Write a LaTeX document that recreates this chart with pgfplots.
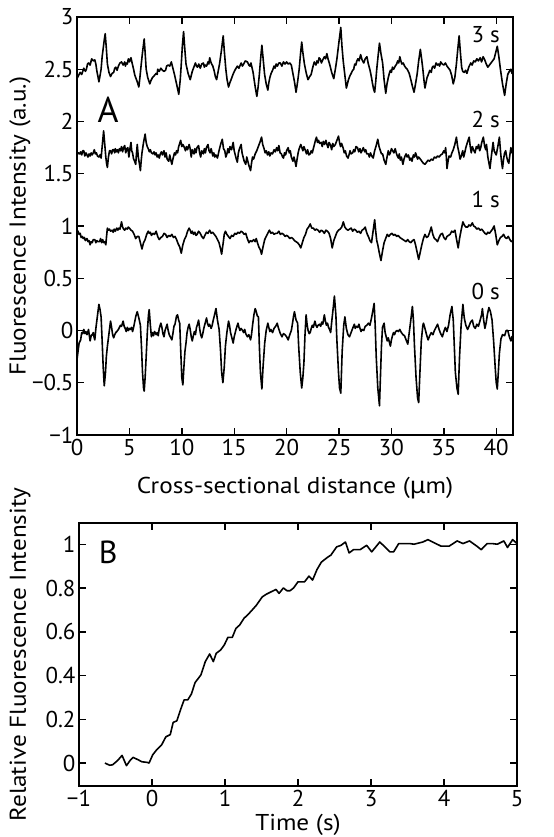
\documentclass[border=0pt]{standalone}
\usepackage{fontspec}
\setmainfont{PT Sans}
\newfontfamily\lbl[FakeStretch=1.1]{PT Sans}
\newfontfamily\greek[FakeStretch=1.1]{Noto Sans}
\usepackage{pgfplots}
\usepackage{pgfplotstable}
\pgfplotsset{compat=1.18}

\pgfplotstableread{
x y
0.00 2.41
0.15 2.44
0.30 2.47
0.45 2.45
0.65 2.51
0.80 2.48
0.90 2.50
1.00 2.55
1.10 2.56
1.25 2.54
1.40 2.60
1.55 2.58
1.70 2.59
1.80 2.55
1.90 2.48
2.00 2.43
2.09 2.38
2.20 2.44
2.30 2.50
2.40 2.62
2.50 2.70
2.60 2.78
2.69 2.84
2.80 2.70
2.90 2.55
3.05 2.47
3.20 2.43
3.35 2.46
3.50 2.47
3.60 2.51
3.70 2.52
3.82 2.49
3.95 2.53
4.10 2.56
4.25 2.57
4.40 2.54
4.55 2.57
4.62 2.53
4.70 2.56
4.80 2.55
4.90 2.60
5.00 2.57
5.15 2.61
5.28 2.55
5.40 2.50
5.50 2.45
5.60 2.42
5.75 2.38
5.90 2.33
6.00 2.42
6.10 2.52
6.25 2.66
6.41 2.79
6.50 2.66
6.60 2.50
6.75 2.42
6.95 2.36
7.05 2.39
7.20 2.42
7.38 2.44
7.55 2.46
7.65 2.45
7.70 2.50
7.85 2.48
8.00 2.51
8.15 2.49
8.30 2.48
8.45 2.49
8.55 2.53
8.70 2.54
8.85 2.53
9.00 2.57
9.15 2.51
9.30 2.45
9.50 2.36
9.71 2.26
9.85 2.40
9.95 2.55
10.05 2.72
10.17 2.86
10.28 2.70
10.40 2.55
10.60 2.46
10.80 2.40
10.90 2.44
11.00 2.48
11.15 2.52
11.30 2.56
11.40 2.53
11.50 2.52
11.62 2.55
11.76 2.51
11.90 2.55
12.06 2.56
12.15 2.52
12.25 2.54
12.36 2.53
12.50 2.57
12.58 2.55
12.66 2.61
12.80 2.56
12.96 2.53
13.10 2.48
13.20 2.43
13.32 2.40
13.45 2.47
13.60 2.55
13.78 2.68
13.95 2.82
14.05 2.68
14.20 2.50
14.32 2.40
14.46 2.33
14.58 2.37
14.70 2.40
14.88 2.45
15.06 2.49
15.18 2.51
15.30 2.53
15.45 2.51
15.66 2.56
15.78 2.53
15.90 2.55
16.05 2.58
16.26 2.57
16.40 2.54
16.50 2.53
16.60 2.56
16.71 2.51
16.80 2.47
16.90 2.40
17.02 2.32
17.16 2.24
17.28 2.33
17.40 2.45
17.52 2.60
17.64 2.73
17.76 2.60
17.90 2.45
18.05 2.36
18.21 2.30
18.30 2.37
18.40 2.42
18.52 2.46
18.66 2.49
18.80 2.53
18.90 2.51
19.00 2.55
19.12 2.53
19.26 2.56
19.40 2.56
19.55 2.53
19.70 2.57
19.85 2.55
20.00 2.57
20.15 2.55
20.30 2.56
20.45 2.54
20.60 2.46
20.75 2.38
20.90 2.28
21.05 2.38
21.20 2.50
21.32 2.64
21.44 2.76
21.55 2.66
21.70 2.55
21.88 2.46
22.04 2.40
22.20 2.43
22.34 2.45
22.50 2.52
22.64 2.57
22.80 2.54
22.90 2.58
23.00 2.56
23.10 2.61
23.20 2.60
23.32 2.56
23.45 2.59
23.60 2.62
23.72 2.60
23.84 2.65
23.95 2.60
24.10 2.55
24.30 2.47
24.50 2.41
24.65 2.50
24.80 2.60
24.98 2.75
25.17 2.90
25.28 2.72
25.40 2.58
25.55 2.45
25.70 2.32
25.80 2.36
25.90 2.40
26.05 2.44
26.16 2.46
26.30 2.49
26.40 2.50
26.50 2.55
26.60 2.54
26.70 2.58
26.80 2.60
26.92 2.58
27.06 2.64
27.20 2.59
27.36 2.56
27.50 2.60
27.66 2.62
27.80 2.55
27.96 2.49
28.10 2.42
28.20 2.36
28.30 2.31
28.40 2.28
28.50 2.38
28.60 2.50
28.72 2.62
28.86 2.75
29.00 2.65
29.16 2.56
29.30 2.40
29.46 2.27
29.58 2.36
29.70 2.42
29.80 2.46
29.90 2.49
30.00 2.47
30.10 2.52
30.22 2.50
30.36 2.53
30.50 2.55
30.60 2.58
30.70 2.56
30.80 2.62
30.90 2.58
31.00 2.55
31.12 2.56
31.26 2.53
31.40 2.51
31.50 2.50
31.60 2.48
31.70 2.46
31.80 2.42
31.90 2.38
32.02 2.33
32.16 2.28
32.30 2.36
32.45 2.45
32.60 2.58
32.76 2.69
32.88 2.60
33.00 2.50
33.10 2.40
33.20 2.32
33.30 2.37
33.40 2.42
33.52 2.45
33.66 2.49
33.80 2.47
33.90 2.52
34.00 2.53
34.12 2.51
34.26 2.56
34.40 2.54
34.50 2.55
34.60 2.53
34.70 2.57
34.85 2.55
35.00 2.54
35.15 2.56
35.30 2.53
35.45 2.51
35.60 2.49
35.75 2.44
35.90 2.36
36.05 2.42
36.20 2.55
36.32 2.68
36.46 2.82
36.58 2.66
36.70 2.52
36.80 2.48
36.95 2.47
37.08 2.49
37.20 2.46
37.38 2.52
37.57 2.56
37.70 2.54
37.85 2.58
38.00 2.57
38.15 2.60
38.30 2.58
38.47 2.61
38.60 2.57
38.75 2.62
38.90 2.59
39.05 2.55
39.20 2.52
39.35 2.54
39.50 2.56
39.65 2.58
39.80 2.60
39.95 2.66
40.10 2.72
40.25 2.62
40.40 2.50
40.60 2.36
40.80 2.25
40.95 2.36
41.10 2.45
41.25 2.48
41.40 2.50
41.50 2.46
41.60 2.47
}\tthree

\pgfplotstableread{
x y
0.00 1.68
0.12 1.70
0.25 1.69
0.35 1.71
0.45 1.68
0.55 1.72
0.65 1.72
0.75 1.67
0.85 1.70
0.95 1.68
1.05 1.66
1.15 1.69
1.25 1.67
1.35 1.70
1.45 1.68
1.55 1.70
1.65 1.73
1.75 1.69
1.85 1.70
1.95 1.67
2.09 1.66
2.20 1.68
2.30 1.65
2.42 1.78
2.54 1.91
2.65 1.78
2.75 1.66
2.82 1.60
2.90 1.56
3.00 1.66
3.10 1.72
3.20 1.72
3.30 1.69
3.40 1.73
3.50 1.73
3.60 1.70
3.65 1.74
3.75 1.71
3.85 1.73
3.95 1.70
4.05 1.74
4.15 1.72
4.25 1.76
4.35 1.71
4.45 1.75
4.55 1.77
4.65 1.70
4.75 1.74
4.85 1.75
4.95 1.66
5.05 1.74
5.15 1.80
5.22 1.72
5.30 1.70
5.40 1.64
5.50 1.62
5.60 1.59
5.68 1.70
5.75 1.78
5.85 1.66
5.95 1.60
6.05 1.53
6.12 1.62
6.20 1.70
6.35 1.80
6.50 1.88
6.60 1.80
6.70 1.76
6.80 1.74
6.90 1.71
7.00 1.73
7.10 1.70
7.25 1.69
7.35 1.71
7.45 1.68
7.55 1.70
7.65 1.66
7.75 1.68
7.85 1.65
7.95 1.69
8.05 1.71
8.15 1.68
8.30 1.72
8.40 1.66
8.50 1.70
8.60 1.64
8.75 1.62
8.85 1.68
8.95 1.63
9.05 1.59
9.15 1.64
9.30 1.70
9.40 1.68
9.50 1.72
9.60 1.70
9.70 1.76
9.80 1.79
9.89 1.82
10.00 1.76
10.10 1.78
10.25 1.75
10.35 1.72
10.45 1.76
10.55 1.73
10.70 1.78
10.80 1.74
10.90 1.66
11.00 1.73
11.16 1.69
11.25 1.74
11.35 1.70
11.45 1.75
11.60 1.77
11.70 1.70
11.80 1.66
11.90 1.72
12.06 1.69
12.15 1.74
12.25 1.70
12.35 1.75
12.50 1.78
12.60 1.72
12.70 1.70
12.80 1.74
12.96 1.67
13.05 1.70
13.15 1.66
13.25 1.68
13.40 1.65
13.55 1.72
13.70 1.78
13.86 1.83
13.98 1.74
14.10 1.72
14.20 1.66
14.30 1.69
14.40 1.74
14.50 1.70
14.60 1.76
14.75 1.73
14.90 1.80
15.00 1.72
15.10 1.68
15.20 1.64
15.30 1.61
15.40 1.70
15.50 1.74
15.66 1.78
15.75 1.70
15.85 1.66
15.95 1.62
16.10 1.59
16.20 1.66
16.30 1.62
16.40 1.58
16.56 1.53
16.65 1.60
16.75 1.66
16.85 1.64
17.00 1.69
17.15 1.72
17.30 1.76
17.45 1.80
17.61 1.85
17.72 1.78
17.85 1.74
17.95 1.70
18.06 1.72
18.18 1.68
18.30 1.71
18.40 1.67
18.52 1.70
18.66 1.69
18.80 1.73
18.92 1.71
19.05 1.75
19.15 1.72
19.26 1.77
19.38 1.70
19.50 1.69
19.62 1.66
19.70 1.65
19.80 1.70
19.90 1.68
20.00 1.72
20.15 1.75
20.25 1.70
20.35 1.72
20.45 1.66
20.60 1.62
20.70 1.66
20.80 1.62
20.90 1.57
21.00 1.64
21.10 1.70
21.20 1.74
21.35 1.78
21.45 1.75
21.55 1.72
21.65 1.76
21.80 1.72
21.90 1.69
22.00 1.73
22.12 1.68
22.25 1.69
22.35 1.72
22.45 1.70
22.55 1.74
22.65 1.78
22.75 1.82
22.85 1.85
22.95 1.80
23.05 1.82
23.15 1.79
23.30 1.80
23.40 1.76
23.50 1.81
23.62 1.78
23.75 1.82
23.85 1.78
23.95 1.75
24.05 1.80
24.20 1.77
24.30 1.73
24.40 1.79
24.50 1.76
24.65 1.78
24.80 1.82
24.95 1.86
25.05 1.80
25.15 1.76
25.25 1.79
25.41 1.74
25.50 1.70
25.60 1.72
25.72 1.67
25.86 1.65
25.95 1.68
26.05 1.72
26.15 1.69
26.30 1.70
26.40 1.73
26.50 1.71
26.62 1.76
26.76 1.75
26.88 1.71
27.00 1.74
27.10 1.70
27.20 1.72
27.32 1.75
27.45 1.71
27.55 1.73
27.65 1.69
27.80 1.69
27.90 1.66
28.00 1.70
28.12 1.67
28.26 1.65
28.40 1.72
28.55 1.77
28.70 1.83
28.82 1.76
28.95 1.72
29.05 1.69
29.16 1.69
29.30 1.63
29.46 1.59
29.58 1.66
29.70 1.72
29.80 1.68
29.90 1.70
30.00 1.74
30.12 1.72
30.24 1.70
30.36 1.74
30.46 1.70
30.56 1.67
30.66 1.65
30.75 1.69
30.85 1.63
30.95 1.66
31.10 1.59
31.20 1.64
31.30 1.67
31.40 1.69
31.50 1.66
31.62 1.68
31.75 1.63
31.86 1.65
31.96 1.62
32.10 1.68
32.20 1.66
32.30 1.70
32.40 1.67
32.50 1.64
32.60 1.66
32.76 1.64
32.90 1.62
33.05 1.60
33.20 1.59
33.35 1.61
33.50 1.63
33.65 1.62
33.80 1.64
33.95 1.63
34.10 1.66
34.25 1.65
34.40 1.67
34.55 1.66
34.70 1.68
34.86 1.69
35.00 1.72
35.10 1.70
35.17 1.75
35.24 1.66
35.30 1.55
35.40 1.62
35.50 1.67
35.65 1.66
35.77 1.70
35.90 1.73
36.05 1.78
36.20 1.85
36.32 1.76
36.45 1.70
36.55 1.64
36.67 1.67
36.80 1.72
36.90 1.66
36.97 1.69
37.10 1.75
37.25 1.80
37.42 1.85
37.52 1.76
37.62 1.70
37.72 1.76
37.87 1.72
37.98 1.70
38.10 1.76
38.20 1.74
38.32 1.78
38.42 1.72
38.52 1.75
38.62 1.80
38.77 1.85
38.90 1.76
39.00 1.73
39.07 1.78
39.20 1.66
39.40 1.55
39.55 1.68
39.70 1.80
39.80 1.72
39.90 1.70
40.00 1.68
40.15 1.76
40.30 1.85
40.42 1.70
40.50 1.62
40.60 1.55
40.70 1.64
40.80 1.70
40.90 1.72
41.00 1.66
41.10 1.62
41.20 1.60
41.30 1.68
41.40 1.75
41.50 1.70
41.60 1.72
}\ttwo

\pgfplotstableread{
x y
0.00 0.94
0.10 0.95
0.20 0.92
0.30 0.93
0.40 0.89
0.50 0.90
0.60 0.88
0.70 0.89
0.80 0.86
0.95 0.88
1.05 0.85
1.15 0.86
1.25 0.82
1.35 0.85
1.45 0.84
1.55 0.87
1.70 0.87
1.80 0.84
1.90 0.86
2.00 0.85
2.15 0.85
2.25 0.88
2.35 0.84
2.45 0.87
2.55 0.84
2.65 0.85
2.75 0.82
2.82 0.90
2.90 0.98
3.00 0.96
3.10 0.97
3.20 0.95
3.35 0.96
3.45 0.94
3.55 0.97
3.65 0.95
3.80 0.98
3.90 0.96
4.00 0.98
4.10 0.97
4.25 1.04
4.35 0.99
4.45 0.97
4.55 0.96
4.65 0.98
4.80 0.97
4.90 0.99
5.00 0.98
5.15 0.96
5.30 0.95
5.45 0.92
5.60 0.88
5.75 0.90
5.90 0.90
6.05 0.84
6.20 0.78
6.35 0.84
6.50 0.87
6.65 0.92
6.80 0.95
6.90 0.93
7.00 0.94
7.10 0.91
7.25 0.93
7.40 0.92
7.55 0.95
7.70 0.90
7.85 0.87
8.00 0.89
8.15 0.90
8.30 0.93
8.45 0.92
8.60 0.89
8.75 0.91
8.90 0.90
9.05 0.92
9.20 0.89
9.35 0.90
9.50 0.87
9.65 0.83
9.80 0.80
9.95 0.74
10.10 0.82
10.25 0.87
10.40 0.90
10.55 0.95
10.70 0.98
10.80 0.96
10.90 0.93
11.00 0.95
11.12 0.92
11.25 0.94
11.35 0.91
11.46 0.92
11.60 0.95
11.76 0.93
11.90 0.90
12.06 0.88
12.20 0.91
12.35 0.94
12.50 0.93
12.66 0.96
12.80 0.93
12.95 0.94
13.10 0.92
13.25 0.90
13.40 0.87
13.55 0.84
13.70 0.78
13.80 0.73
13.95 0.84
14.05 0.92
14.16 0.95
14.30 0.92
14.45 0.90
14.60 0.88
14.75 0.91
14.90 0.90
15.06 0.93
15.20 0.92
15.35 0.94
15.50 0.93
15.66 0.95
15.80 0.94
15.95 0.92
16.10 0.93
16.25 0.88
16.41 0.84
16.55 0.86
16.70 0.85
16.86 0.87
17.00 0.85
17.10 0.88
17.22 0.84
17.35 0.80
17.50 0.77
17.61 0.73
17.75 0.80
17.91 0.87
18.05 0.90
18.20 0.93
18.36 0.96
18.50 0.93
18.65 0.94
18.81 0.92
18.95 0.93
19.10 0.93
19.26 0.95
19.40 0.92
19.55 0.93
19.71 0.92
19.85 0.90
20.00 0.91
20.15 0.90
20.30 0.88
20.45 0.89
20.60 0.88
20.75 0.86
20.90 0.85
21.05 0.84
21.20 0.82
21.35 0.79
21.50 0.84
21.65 0.89
21.80 0.92
21.95 0.97
22.10 0.99
22.25 1.02
22.40 0.98
22.55 0.98
22.70 0.96
22.85 0.97
23.00 0.96
23.15 0.94
23.30 0.96
23.45 0.95
23.60 0.93
23.75 0.96
23.90 0.95
24.05 0.93
24.20 0.88
24.35 0.79
24.50 0.86
24.65 0.90
24.80 0.94
24.95 0.96
25.10 0.97
25.26 0.99
25.41 1.04
25.55 0.99
25.70 0.97
25.86 0.96
26.00 0.97
26.16 0.98
26.30 0.95
26.45 0.97
26.60 0.96
26.75 0.94
26.90 0.95
27.06 0.93
27.20 0.96
27.35 0.97
27.50 0.99
27.60 0.95
27.70 0.92
27.80 0.90
27.95 0.86
28.10 0.84
28.25 0.95
28.40 1.06
28.50 0.95
28.60 0.86
28.70 0.82
28.85 0.74
29.00 0.67
29.15 0.76
29.30 0.84
29.45 0.88
29.60 0.92
29.75 0.90
29.90 0.92
30.06 0.93
30.20 0.91
30.35 0.92
30.50 0.90
30.65 0.91
30.80 0.89
30.96 0.88
31.10 0.87
31.25 0.86
31.40 0.85
31.55 0.87
31.70 0.85
31.86 0.84
32.00 0.86
32.16 0.87
32.30 0.82
32.45 0.75
32.60 0.68
32.75 0.75
32.90 0.82
33.05 0.88
33.20 0.92
33.35 0.89
33.50 0.90
33.65 0.94
33.80 0.99
33.95 0.92
34.10 0.88
34.25 0.87
34.40 0.85
34.55 0.89
34.70 0.92
34.86 0.93
35.00 0.89
35.17 0.87
35.30 0.90
35.45 0.91
35.60 0.92
35.75 0.95
35.90 0.94
36.06 0.96
36.20 0.88
36.37 0.79
36.50 0.88
36.65 0.96
36.82 1.04
36.95 1.01
37.10 0.99
37.27 0.99
37.40 1.01
37.55 1.00
37.72 1.03
37.85 1.00
38.00 0.99
38.15 0.97
38.30 0.98
38.47 0.96
38.62 0.97
38.77 0.95
38.92 0.93
39.07 0.92
39.20 0.94
39.35 0.93
39.50 0.95
39.65 0.97
39.80 1.00
39.95 0.92
40.10 0.82
40.25 0.86
40.40 0.89
40.55 0.90
40.70 0.92
40.85 0.89
41.00 0.88
41.15 0.90
41.30 0.87
41.45 0.85
41.60 0.86
}\tone

\pgfplotstableread{
x y
0.00 -0.28
0.10 -0.20
0.20 -0.12
0.35 -0.09
0.45 -0.02
0.55 -0.03
0.65 0.01
0.75 -0.03
0.85 -0.01
0.95 -0.04
1.02 -0.02
1.10 0.01
1.18 -0.05
1.25 -0.10
1.35 -0.05
1.45 -0.04
1.55 -0.02
1.62 -0.06
1.70 -0.09
1.80 0.02
1.90 0.10
2.00 0.18
2.09 0.25
2.20 0.20
2.30 0.13
2.40 -0.10
2.50 -0.35
2.60 -0.53
2.72 -0.40
2.80 -0.25
2.90 -0.15
3.05 -0.03
3.20 0.09
3.30 0.03
3.40 -0.04
3.50 -0.07
3.60 -0.04
3.70 -0.02
3.80 -0.01
3.95 0.01
4.05 0.03
4.15 0.05
4.25 0.04
4.40 0.09
4.50 0.04
4.60 0.02
4.70 -0.01
4.80 0.03
4.90 0.00
5.00 0.02
5.10 0.01
5.20 0.03
5.30 -0.01
5.40 0.03
5.50 0.08
5.62 0.14
5.75 0.18
5.90 0.12
6.05 0.05
6.15 -0.15
6.25 -0.40
6.35 -0.55
6.41 -0.58
6.50 -0.45
6.60 -0.25
6.72 0.00
6.82 0.15
6.89 0.20
7.00 0.05
7.10 -0.06
7.20 -0.02
7.30 -0.05
7.40 -0.01
7.55 -0.04
7.65 -0.02
7.75 -0.05
7.85 0.02
8.00 0.07
8.10 0.03
8.20 -0.03
8.30 -0.06
8.40 0.00
8.50 0.03
8.60 0.06
8.70 0.00
8.80 -0.04
8.90 -0.06
9.05 -0.09
9.15 -0.03
9.25 0.04
9.35 0.06
9.50 0.14
9.59 0.15
9.70 0.10
9.80 0.07
9.90 -0.20
10.00 -0.45
10.10 -0.52
10.20 -0.35
10.30 -0.20
10.40 -0.12
10.50 -0.02
10.60 0.03
10.70 0.06
10.80 0.01
10.90 -0.06
11.00 -0.10
11.10 -0.05
11.20 -0.01
11.30 -0.04
11.40 0.03
11.50 0.06
11.60 0.10
11.70 0.02
11.80 -0.04
11.90 -0.07
12.00 -0.03
12.10 0.02
12.20 0.06
12.36 0.12
12.45 0.07
12.55 0.04
12.65 0.06
12.80 0.02
12.90 0.05
13.00 0.10
13.10 0.14
13.26 0.21
13.40 0.10
13.56 0.01
13.70 -0.20
13.80 -0.40
13.92 -0.50
14.05 -0.35
14.16 -0.15
14.30 -0.02
14.46 0.09
14.55 0.05
14.65 -0.02
14.75 -0.06
14.90 -0.12
15.00 -0.06
15.10 -0.02
15.20 0.02
15.36 0.07
15.45 0.03
15.55 0.00
15.65 0.02
15.80 0.00
15.90 -0.02
16.00 0.01
16.10 -0.03
16.26 -0.06
16.40 -0.04
16.56 -0.09
16.65 -0.04
16.75 0.05
16.88 0.15
17.00 0.21
17.10 0.18
17.20 0.14
17.31 0.13
17.40 -0.15
17.50 -0.40
17.64 -0.56
17.75 -0.35
17.91 -0.12
18.05 0.00
18.21 0.07
18.30 0.03
18.40 -0.01
18.50 0.01
18.66 -0.02
18.80 0.02
18.95 0.04
19.10 0.07
19.20 0.03
19.30 0.00
19.40 -0.03
19.56 -0.06
19.70 -0.03
19.85 -0.04
20.00 -0.06
20.15 -0.09
20.30 -0.04
20.45 0.00
20.55 0.06
20.65 0.13
20.75 0.18
20.90 0.10
21.05 0.07
21.15 -0.15
21.30 -0.40
21.44 -0.55
21.55 -0.45
21.65 -0.31
21.75 -0.05
21.86 0.15
21.95 0.06
22.05 0.00
22.15 -0.03
22.25 -0.02
22.35 0.02
22.45 0.05
22.55 0.03
22.70 0.09
22.80 0.05
22.90 0.03
23.00 0.05
23.15 0.06
23.25 0.04
23.35 0.08
23.45 0.06
23.60 0.15
23.70 0.09
23.80 0.05
23.90 0.07
24.00 0.03
24.10 0.01
24.20 -0.02
24.30 0.08
24.45 0.22
24.56 0.33
24.70 0.15
24.80 -0.10
24.95 -0.40
25.05 -0.55
25.17 -0.60
25.30 -0.20
25.45 0.05
25.56 0.13
25.70 0.02
25.85 -0.04
26.00 -0.06
26.15 -0.02
26.30 0.02
26.46 0.06
26.55 0.02
26.65 0.04
26.78 0.03
26.90 0.06
27.00 0.02
27.10 -0.01
27.20 0.01
27.36 0.00
27.50 0.04
27.65 0.05
27.80 0.07
27.95 0.05
28.10 0.12
28.25 0.20
28.35 0.26
28.45 0.05
28.55 -0.25
28.70 -0.55
28.86 -0.72
28.95 -0.45
29.05 -0.15
29.15 0.03
29.30 0.07
29.40 -0.02
29.50 -0.06
29.60 -0.10
29.70 -0.07
29.80 -0.11
29.90 -0.15
30.00 -0.09
30.10 -0.05
30.20 -0.02
30.30 -0.04
30.40 -0.01
30.55 0.00
30.66 -0.01
30.80 0.01
30.95 -0.02
31.10 -0.04
31.25 -0.05
31.40 -0.09
31.56 -0.13
31.70 -0.02
31.85 0.10
32.00 0.23
32.10 0.10
32.20 -0.15
32.35 -0.45
32.50 -0.65
32.60 -0.69
32.72 -0.40
32.85 -0.10
33.00 0.05
33.06 0.07
33.20 0.02
33.35 -0.04
33.50 -0.09
33.65 -0.05
33.80 -0.02
33.96 -0.04
34.10 0.00
34.25 0.03
34.40 0.06
34.55 0.01
34.70 -0.03
34.86 -0.06
35.00 -0.01
35.15 0.03
35.30 -0.01
35.45 0.05
35.60 0.15
35.77 0.23
35.90 0.10
36.00 -0.15
36.10 -0.40
36.25 -0.55
36.37 -0.61
36.50 -0.25
36.65 0.05
36.82 0.25
36.95 0.12
37.10 0.05
37.27 0.01
37.40 0.04
37.55 0.08
37.72 0.10
37.85 0.04
38.00 0.02
38.15 0.06
38.30 0.04
38.47 0.10
38.60 0.15
38.68 0.21
38.80 0.10
38.92 0.02
39.05 0.08
39.15 0.15
39.30 0.22
39.45 0.18
39.60 0.10
39.75 -0.10
39.90 -0.35
40.00 -0.50
40.10 -0.56
40.20 -0.40
40.30 -0.22
40.45 -0.08
40.60 -0.04
40.80 -0.05
40.95 0.00
41.10 0.00
41.25 -0.06
41.40 -0.10
41.50 -0.06
41.60 -0.05
}\tzero

\pgfplotstableread{
x y
-0.645 0.000
-0.58 -0.010
-0.54 -0.008
-0.47 0.012
-0.41 0.035
-0.35 -0.012
-0.30 0.012
-0.26 0.026
-0.19 0.015
-0.14 0.006
-0.065 0.003
-0.04 0.000
0.01 0.038
0.065 0.061
0.13 0.082
0.19 0.120
0.25 0.130
0.29 0.186
0.34 0.193
0.39 0.243
0.44 0.289
0.49 0.289
0.54 0.316
0.59 0.368
0.67 0.403
0.73 0.464
0.79 0.499
0.84 0.464
0.88 0.502
0.94 0.517
0.99 0.540
1.04 0.575
1.10 0.575
1.15 0.616
1.20 0.631
1.26 0.662
1.32 0.681
1.38 0.703
1.43 0.722
1.51 0.760
1.57 0.773
1.63 0.783
1.70 0.794
1.74 0.776
1.80 0.801
1.85 0.788
1.89 0.788
1.94 0.801
2.00 0.829
2.09 0.829
2.15 0.855
2.20 0.837
2.26 0.885
2.32 0.919
2.40 0.940
2.45 0.951
2.53 0.989
2.59 0.996
2.65 1.011
2.70 0.961
2.76 0.976
2.85 0.976
2.94 0.996
3.01 0.966
3.12 1.011
3.19 0.989
3.26 0.966
3.31 0.966
3.38 1.004
3.53 1.004
3.59 1.001
3.71 1.011
3.78 1.022
3.87 1.007
3.96 0.992
4.07 0.992
4.18 1.016
4.26 1.004
4.35 1.016
4.45 0.992
4.51 0.976
4.59 1.004
4.66 1.004
4.73 1.001
4.82 1.016
4.87 0.986
4.94 1.022
5.00 1.004
}\tb

\pgfplotsset{
  myax/.style={
    scale only axis,
    clip=false,
    axis line style={line width=1.6bp},
    every tick/.style={black, line width=1.4bp},
    major tick length=7bp,
    tick align=inside,
    tick pos=both,
    xticklabel pos=left,
    yticklabel pos=left,
    every x tick label/.append style={yshift=-1bp},
  },
  tr/.style={black, line width=1.6bp, line join=round, no markers},
}
\tikzset{lblf/.style={font=\fontsize{23}{26}\lbl}}

\begin{document}
\begin{tikzpicture}[font=\fontsize{23}{26}\selectfont]
\path[use as bounding box] (0,0) rectangle (554bp,-837bp);

\begin{axis}[myax,
  at={(77bp,-17bp)}, anchor=north west,
  width=436bp, height=418bp,
  xmin=0, xmax=41.6, ymin=-1, ymax=3,
  xtick={0,5,10,15,20,25,30,35,40},
  xticklabels={0,5,10,15,20,25,30,35,40},
  ytick={-1,-0.5,0,0.5,1,1.5,2,2.5,3},
  yticklabels={−1,−0.5,0,0.5,1,1.5,2,2.5,3},
]
\addplot[tr] table[x=x,y=y] {\tthree};
\addplot[tr] table[x=x,y=y] {\ttwo};
\addplot[tr] table[x=x,y=y] {\tone};
\addplot[tr] table[x=x,y=y] {\tzero};
\node at (axis cs:39.0,2.83) {3 s};
\node at (axis cs:39.0,2.02) {2 s};
\node at (axis cs:39.0,1.25) {1 s};
\node at (axis cs:39.0,0.37) {0 s};
\node[font=\fontsize{36}{38}\selectfont] at (axis cs:2.96,2.11) {A};
\node[rotate=90,lblf] at ([xshift=-57bp]rel axis cs:0,0.5) {Fluorescence Intensity (a.u.)};
\node[lblf] at ([yshift=-53bp]rel axis cs:0.5,0) {Cross-sectional distance ({\greek μ}m)};
\end{axis}

\begin{axis}[myax,
  at={(79bp,-523bp)}, anchor=north west,
  width=438bp, height=263bp,
  xmin=-1, xmax=5, ymin=-0.105, ymax=1.098,
  xtick={-1,0,1,2,3,4,5},
  xticklabels={−1,0,1,2,3,4,5},
  ytick={0,0.2,0.4,0.6,0.8,1},
  yticklabels={0,0.2,0.4,0.6,0.8,1},
]
\addplot[tr] table[x=x,y=y] {\tb};
\node[font=\fontsize{32}{34}\selectfont] at (axis cs:-0.6,0.966) {B};
\node[rotate=90,lblf] at ([xshift=-59bp]rel axis cs:0,0.5) {Relative Fluorescence Intensity};
\node[lblf] at ([yshift=-39bp]rel axis cs:0.5,0) {Time (s)};
\end{axis}
\end{tikzpicture}
\end{document}
